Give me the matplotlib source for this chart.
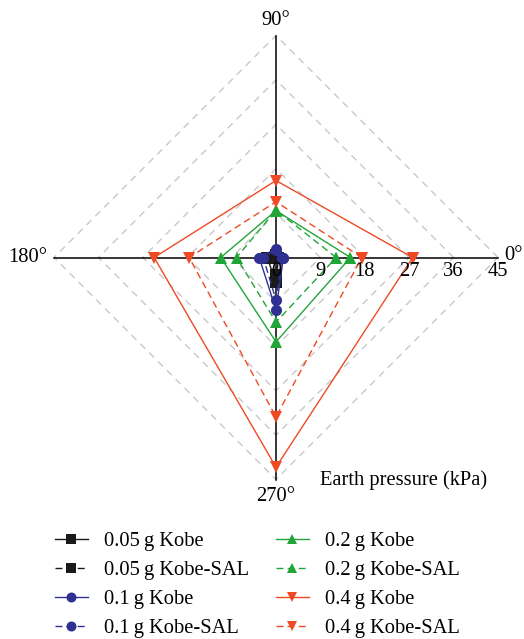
import numpy as np
import matplotlib
matplotlib.use("Agg")
import matplotlib.pyplot as plt

plt.rcParams['font.family'] = ['Liberation Serif', 'DejaVu Serif']

# directions (deg) and earth pressure (kPa)
angles = [0, 90, 180, 270]
rings = [9, 18, 27, 36, 45]

names = ['0.05\u2009g Kobe', '0.05\u2009g Kobe-SAL', '0.1\u2009g Kobe', '0.1\u2009g Kobe-SAL',
         '0.2\u2009g Kobe', '0.2\u2009g Kobe-SAL', '0.4\u2009g Kobe', '0.4\u2009g Kobe-SAL']
k005 = [0.5, 0.6, 1.8, 5.0]
k005_sal = [0.4, 0.5, 1.5, 3.6]
k01 = [1.5, 1.8, 3.4, 10.6]
k01_sal = [1.2, 1.5, 2.6, 8.6]
k02 = [15.1, 9.5, 11.2, 17.1]
k02_sal = [12.2, 9.6, 8.0, 13.1]
k04 = [27.7, 15.6, 24.7, 42.5]
k04_sal = [17.4, 11.3, 17.6, 32.3]

series = [k005, k005_sal, k01, k01_sal, k02, k02_sal, k04, k04_sal]
colors = ['#1a1a1a', '#1a1a1a', '#2e3192', '#2e3192',
          '#22a538', '#22a538', '#ef4a23', '#ef4a23']
markers = ['s', 's', 'o', 'o', '^', '^', 'v', 'v']
styles = ['-', '--'] * 4


def to_xy(vals):
    th = np.deg2rad(angles + [angles[0]])
    r = np.array(list(vals) + [vals[0]])
    return r * np.cos(th), r * np.sin(th)


fig = plt.figure(figsize=(5.24, 6.39), dpi=100)
ax = fig.add_axes([54 / 524, 1 - 479.5 / 639, 444 / 524, 444 / 639])
ax.set_xlim(-45, 45)
ax.set_ylim(-45, 45)
ax.set_aspect('equal')
ax.axis('off')

# dashed diamond grid
for g in rings:
    x, y = to_xy([g] * 4)
    ax.plot(x, y, color='#c8c8c8', lw=1.0, ls=(0, (5, 4)), zorder=1, clip_on=False)

# cross axes
ax.plot([-45, 45], [0, 0], color='black', lw=1.1, zorder=2, clip_on=False)
ax.plot([0, 0], [-45, 45], color='black', lw=1.1, zorder=2, clip_on=False)

handles = []
for vals, c, m, ls, nm in zip(series, colors, markers, styles, names):
    x, y = to_xy(vals)
    h, = ax.plot(x, y, color=c, ls=ls, lw=1.0, marker=m, markersize=8,
                 markeredgewidth=0, label=nm, zorder=3, clip_on=False,
                 dashes=(5, 3) if ls == '--' else (None, None))
    handles.append(h)

fs = 14.8
for t in [0] + rings:
    ax.text(t, -2.9, str(t), ha='center', va='center', fontsize=fs)
ax.text(0, 48.0, '90°', ha='center', va='center', fontsize=fs)
ax.text(46.3, 0.4, '0°', ha='left', va='center', fontsize=fs)
ax.text(-50.3, 0, '180°', ha='center', va='center', fontsize=fs)
ax.text(0, -48.5, '270°', ha='center', va='center', fontsize=fs)
ax.text(9.0, -45.2, 'Earth pressure (kPa)', ha='left', va='center', fontsize=fs)

leg_kw = dict(loc='upper left', frameon=False, fontsize=fs, handlelength=1.6,
              handletextpad=0.8, labelspacing=0.46, borderaxespad=0, borderpad=0,
              markerscale=0.9)
fig.legend(handles=handles[:4], bbox_to_anchor=(55 / 524, 1 - 532 / 639), **leg_kw)
fig.legend(handles=handles[4:], bbox_to_anchor=(276 / 524, 1 - 532 / 639), **leg_kw)

fig.savefig('out.png', dpi=100)
